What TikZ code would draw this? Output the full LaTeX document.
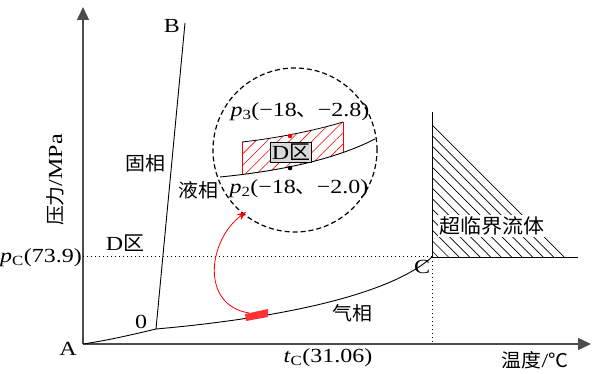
\documentclass[tikz,border=0pt]{standalone}
\usepackage{fontspec}
\setmainfont{Liberation Serif}[FakeStretch=1.2]
\newfontfamily\cjk{Noto Sans CJK SC}[FakeStretch=1.05]
\usetikzlibrary{arrows.meta,patterns.meta}
\begin{document}
\begin{tikzpicture}[x=1pt,y=-1pt,
  every node/.style={font=\fontsize{20}{23}\selectfont, inner sep=1pt},
  cjkfont/.style={font=\cjk\fontsize{19}{22}\selectfont},
  axis/.style={draw=black!70, line width=1.4pt},
  curve/.style={draw=black, line width=0.9pt},
  dots/.style={line width=1pt, dash pattern=on 1pt off 3pt},
  hatchline/.style={draw=black, line width=0.7pt}]
\useasboundingbox (0,0) rectangle (592,374);
% axes
\coordinate (A) at (83,344);
\coordinate (Xend) at (591,344);
\coordinate (Yend) at (83,7);
\draw[axis, -{Triangle[length=13pt,width=12pt]}] (A) -- (Xend);
\draw[axis, -{Triangle[length=13pt,width=12pt]}] (A) -- (Yend);
% main points
\coordinate (O) at (156,329);
\coordinate (B) at (185,23);
\coordinate (C) at (432,257);
\draw[curve] (A) .. controls (110,340) and (135,334) .. (O);
\draw[curve] (O) -- (B);
\draw[curve] (O) .. controls (280,318) and (390,295) .. (C);
% dotted guides
\coordinate (Py) at (83,257);
\coordinate (Tx) at (432,344);
\draw[dots] (Py) -- (C);
\draw[dots] (C) -- (Tx);
% supercritical region
\coordinate (Stop) at (432,112);
\coordinate (Sright) at (578,257);
\foreach \k in {0,...,12} {
  \draw[hatchline] (432,{125+10.5*\k}) -- ({564-10.5*\k},257);
}
\draw[curve] (Stop) -- (C) -- (Sright);
\node[fill=white, inner sep=2pt, font=\cjk\fontsize{20}{23}\selectfont] (sc) at (492,226) {超临界流体};
% labels
\node (lA) at (68,349) {A};
\node (lB) at (172,26) {B};
\node (lO) at (141,322) {0};
\node (lC) at (422,267) {C};
\node[cjkfont] (solid) at (145,163) {固相};
\node[cjkfont] (liquid) at (198,190) {液相};
\node[cjkfont] (gas) at (352,313) {气相};
\node (dz) at (125,243) {D{\cjk 区}};
\node (pc) at (41,258) {\textit{p}\textsubscript{C}(73.9)};
\node (tc) at (328,358) {\textit{t}\textsubscript{C}(31.06)};
\node (temp) at (535,360) {{\cjk\fontsize{19}{22}\selectfont 温度}/{\cjk\fontsize{19}{22}\selectfont ℃}};
\node[rotate=90] (pres) at (55,180) {{\cjk\fontsize{19}{22}\selectfont 压力}/MPa};
% small red rectangle on curve
\fill[red!80] (245,314) -- (268,309) -- (268,317) -- (246,321) -- cycle;
\coordinate (arS) at (249,313);
% magnified circle
\node[circle, draw, line width=1.2pt, dash pattern=on 5pt off 3pt, minimum size=164pt] (mag) at (295,150) {};
\coordinate (arE) at (246,212);
\draw[red, line width=0.8pt, -{Stealth[length=9pt,width=7pt]}] (arS) .. controls (200,305) and (208,240) .. (arE);
% hatched D zone
\begin{scope}
  \clip (220,177) .. controls (270,172) and (330,162) .. (375,139) -- (375,100) -- (220,100) -- cycle;
  \fill[pattern={Lines[angle=45,distance=8pt,line width=0.6pt]}, pattern color=red]
    (242,142) .. controls (270,139) and (310,132) .. (343,122) -- (343,200) -- (242,200) -- cycle;
  \draw[red, line width=0.8pt] (242,142) -- (242,200);
  \draw[red, line width=0.8pt] (343,122) -- (343,200);
\end{scope}
\draw[curve, line width=0.8pt] (242,142) .. controls (270,139) and (310,132) .. (343,122);
\draw[curve] (220,177) .. controls (270,172) and (330,162) .. (375,139);
\fill[red] (290,136) circle (2.3pt);
\fill[black] (290,168) circle (2.3pt);
\node[draw, fill=gray!30, inner sep=1.5pt] (dbox) at (291,152) {D{\cjk 区}};
\node (p3) at (300,112) {\textit{p}\textsubscript{3}(−18{\cjk 、}−2.8)};
\node (p2) at (299,189) {\textit{p}\textsubscript{2}(−18{\cjk 、}−2.0)};
\end{tikzpicture}
\end{document}
